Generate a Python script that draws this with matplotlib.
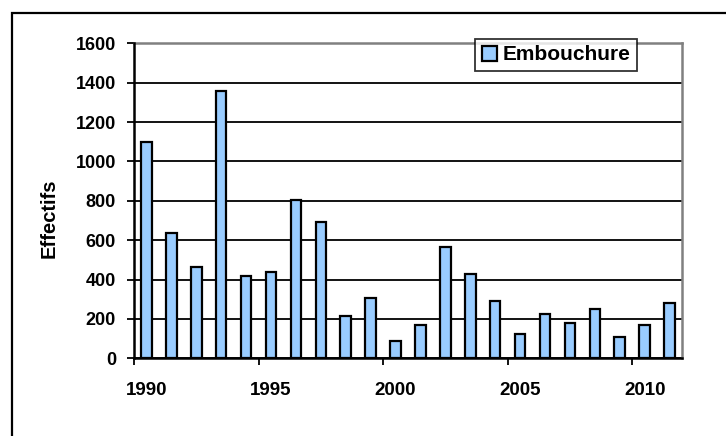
import numpy as np
import matplotlib
matplotlib.use('Agg')
import matplotlib.pyplot as plt
from matplotlib.patches import Rectangle

# data
years = list(range(1990, 2012))
effectifs = [1100, 635, 465, 1358, 418, 437, 804, 694, 216, 305, 86,
             169, 567, 428, 292, 123, 223, 181, 250, 108, 167, 281]
year_labels = ['1990', '1995', '2000', '2005', '2010']

plt.rcParams['font.family'] = ['Liberation Sans', 'DejaVu Sans']
plt.rcParams['font.weight'] = 'bold'

fig = plt.figure(figsize=(7.26, 4.36), dpi=100)
ax = fig.add_axes([134 / 726, 1 - 358.3 / 436, 548 / 726, 315 / 436])

x = np.arange(len(years))
ax.bar(x, effectifs, width=0.42, color='#99CCFF', edgecolor='black',
       linewidth=1.6, label='Embouchure', zorder=3)

ax.set_xlim(-0.5, len(years) - 0.5)
ax.set_ylim(0, 1600)
ax.set_yticks(range(0, 1601, 200))
ax.yaxis.grid(True, color='black', linewidth=1.3, zorder=0)

# tick marks at category boundaries, labels at category centres
ax.set_xticks(np.arange(-0.5, len(years), 5))
ax.set_xticklabels([])
ax.set_xticks(np.arange(0, len(years), 5), minor=True)
ax.set_xticklabels(year_labels, minor=True)
ax.tick_params(axis='x', which='major', direction='out', length=5, width=1.3)
ax.tick_params(axis='x', which='minor', length=0, pad=17, labelsize=13.5)
ax.tick_params(axis='y', direction='out', length=5, width=1.3, pad=8, labelsize=13)

for side in ['left', 'bottom']:
    ax.spines[side].set_linewidth(1.8)
    ax.spines[side].set_zorder(4)
for side in ['top', 'right']:
    ax.spines[side].set_color('#808080')
    ax.spines[side].set_linewidth(1.8)

ax.set_ylabel('Effectifs', fontsize=14.5, fontweight='bold')
ax.yaxis.set_label_coords(49 / 726, 0.5, transform=fig.transFigure)
ax.yaxis.label.set_verticalalignment('center')

leg = ax.legend(loc='center', bbox_to_anchor=(556 / 726, 1 - 55 / 436),
                bbox_transform=fig.transFigure, fontsize=15, frameon=True,
                fancybox=False, handlelength=0.75, handleheight=0.75,
                handletextpad=0.25, borderpad=0.3, borderaxespad=0)
leg.get_frame().set_edgecolor('black')
leg.get_frame().set_linewidth(1.3)
leg.set_zorder(5)

# outer chart frame (runs off right and bottom of the image)
fig.patches.append(Rectangle((12 / 726, -0.1), 1.0, 1 - 13 / 436 + 0.1,
                             transform=fig.transFigure, fill=False,
                             edgecolor='black', linewidth=1.6))

fig.savefig('out.png', dpi=100)
